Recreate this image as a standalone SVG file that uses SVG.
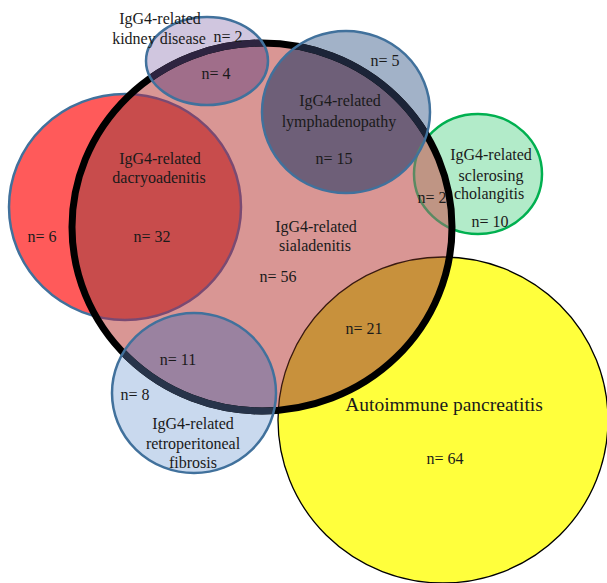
<svg xmlns="http://www.w3.org/2000/svg" width="607" height="583" viewBox="0 0 607 583">
<style>
.bl{fill:none;stroke:#41719c;stroke-width:2.5}
text{font-family:"Liberation Serif","Times New Roman",serif;font-size:16px;fill:#1a1a1a;text-anchor:middle}
</style>
<defs>
<clipPath id="inS"><ellipse cx="262" cy="227" rx="190" ry="184"/></clipPath>
<clipPath id="outS"><path clip-rule="evenodd" d="M0,0H607V583H0Z M72,227a190,184 0 1,0 380,0a190,184 0 1,0 -380,0Z"/></clipPath>
<clipPath id="inK"><ellipse cx="207" cy="61" rx="61" ry="44"/></clipPath>
<clipPath id="inL"><ellipse cx="346" cy="112" rx="84" ry="81"/></clipPath>
<clipPath id="inR"><ellipse cx="194" cy="393" rx="82" ry="80"/></clipPath>
</defs>
<rect width="607" height="583" fill="#fff"/>
<g id="dacryoadenitis">
<ellipse cx="125" cy="207" rx="116" ry="113" fill="#ff5a5a"/>
</g>
<g id="pancreatitis">
<ellipse cx="443" cy="420" rx="165" ry="163" fill="#ffff3c" stroke="#000" stroke-width="1.3"/>
</g>
<g id="cholangitis">
<ellipse cx="478" cy="174" rx="64" ry="60" fill="#b2ebc9"/>
</g>
<g id="kidney">
<ellipse cx="207" cy="61" rx="61" ry="44" fill="#d0c6df"/>
</g>
<g id="lymphadenopathy">
<ellipse cx="346" cy="112" rx="84" ry="81" fill="#a2b2c8"/>
</g>
<g id="retroperitoneal">
<ellipse cx="194" cy="393" rx="82" ry="80" fill="#c9d9ee"/>
</g>
<g id="sialadenitis">
<ellipse cx="262" cy="227" rx="190" ry="184" fill="#d99694"/>
<g clip-path="url(#inS)">
<ellipse cx="125" cy="207" rx="116" ry="113" fill="#c84c4c"/>
<ellipse cx="443" cy="420" rx="165" ry="163" fill="#c8913c"/>
<ellipse cx="478" cy="174" rx="64" ry="60" fill="#bf9584"/>
<ellipse cx="207" cy="61" rx="61" ry="44" fill="#a06e8a"/>
<ellipse cx="346" cy="112" rx="84" ry="81" fill="#6e5f78"/>
<ellipse cx="194" cy="393" rx="82" ry="80" fill="#9a82a0"/>
<ellipse cx="443" cy="420" rx="165" ry="163" fill="none" stroke="#3a1a10" stroke-width="1.3"/>
<ellipse cx="125" cy="207" rx="116" ry="113" fill="none" stroke="#7a4a72" stroke-width="2.5"/>
<ellipse cx="478" cy="174" rx="64" ry="60" fill="none" stroke="#5a8a62" stroke-width="2.5"/>
</g>
<g clip-path="url(#outS)">
<ellipse cx="125" cy="207" rx="116" ry="113" class="bl"/>
<ellipse cx="478" cy="174" rx="64" ry="60" fill="none" stroke="#00b050" stroke-width="2.5"/>
</g>
<ellipse cx="262" cy="227" rx="190" ry="184" fill="none" stroke="#000" stroke-width="7"/>
<ellipse cx="262" cy="227" rx="190" ry="184" fill="none" stroke="#2e2440" stroke-width="7" clip-path="url(#inK)"/>
<ellipse cx="262" cy="227" rx="190" ry="184" fill="none" stroke="#1c2438" stroke-width="7" clip-path="url(#inL)"/>
<ellipse cx="262" cy="227" rx="190" ry="184" fill="none" stroke="#27344a" stroke-width="7" clip-path="url(#inR)"/>
</g>
<g id="borders">
<ellipse cx="207" cy="61" rx="61" ry="44" class="bl"/>
<ellipse cx="346" cy="112" rx="84" ry="81" class="bl"/>
<ellipse cx="194" cy="393" rx="82" ry="80" class="bl"/>
</g>
<g id="connectors"/>
<g id="labels">
<text x="160" y="24">IgG4-related</text>
<text x="159" y="44">kidney disease</text>
<text x="228" y="42">n= 2</text>
<text x="216" y="79">n= 4</text>
<text x="385" y="66">n= 5</text>
<text x="340" y="106">IgG4-related</text>
<text x="339" y="127">lymphadenopathy</text>
<text x="334" y="164">n= 15</text>
<text x="491" y="160" fill="#22382c">IgG4-related</text>
<text x="491" y="181" fill="#22382c">sclerosing</text>
<text x="489" y="199" fill="#22382c">cholangitis</text>
<text x="490" y="227">n= 10</text>
<text x="432" y="203">n= 2</text>
<text x="316" y="232">IgG4-related</text>
<text x="315" y="251">sialadenitis</text>
<text x="278" y="282">n= 56</text>
<text x="364" y="334">n= 21</text>
<text x="160" y="164">IgG4-related</text>
<text x="159" y="183">dacryoadenitis</text>
<text x="152" y="242">n= 32</text>
<text x="42" y="242">n= 6</text>
<text x="178" y="365">n= 11</text>
<text x="135" y="400">n= 8</text>
<text x="193" y="429" fill="#34404e">IgG4-related</text>
<text x="193" y="449" fill="#34404e">retroperitoneal</text>
<text x="193" y="468" fill="#34404e">fibrosis</text>
<text x="444" y="411" style="font-size:19.5px">Autoimmune pancreatitis</text>
<text x="445" y="464">n= 64</text>
</g>
</svg>
